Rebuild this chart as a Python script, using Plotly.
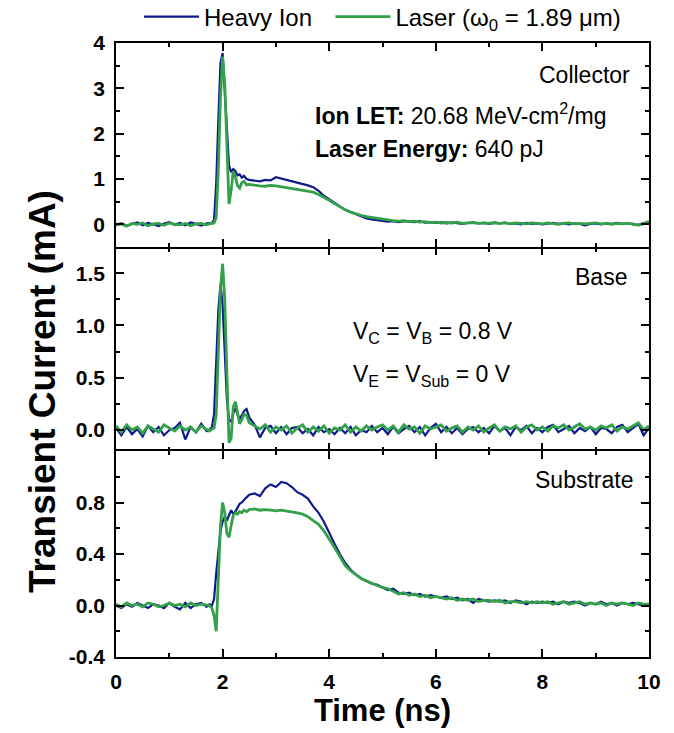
import plotly.graph_objects as go
from plotly.subplots import make_subplots

# ---------------- data ----------------
TIME_NS = [
    0.0, 0.1, 0.2, 0.3, 0.4, 0.5, 0.6, 0.7, 0.8, 0.9, 1.0, 1.1, 1.2, 1.3, 1.4, 1.5, 1.6, 1.7,
    1.75, 1.80, 1.84, 1.88, 1.92, 1.96, 2.00, 2.04, 2.08, 2.12, 2.16, 2.20, 2.24, 2.28, 2.32, 2.36, 2.40, 2.45, 2.50,
    2.6, 2.7, 2.8, 2.9, 3.0, 3.1, 3.2, 3.3, 3.4, 3.5, 3.6, 3.7, 3.8, 3.9, 4.0, 4.1, 4.2, 4.3, 4.4, 4.5, 4.6, 4.7, 4.8, 4.9,
    5.0, 5.1, 5.2, 5.3, 5.4, 5.5, 5.6, 5.7, 5.8, 5.9,
    6.0, 6.1, 6.2, 6.3, 6.4, 6.5, 6.6, 6.7, 6.8, 6.9,
    7.0, 7.1, 7.2, 7.3, 7.4, 7.5, 7.6, 7.7, 7.8, 7.9,
    8.0, 8.1, 8.2, 8.3, 8.4, 8.5, 8.6, 8.7, 8.8, 8.9,
    9.0, 9.1, 9.2, 9.3, 9.4, 9.5, 9.6, 9.7, 9.8, 9.9, 10.0,
]

collector_ion = [
    0.00, 0.02, -0.03, 0.01, 0.04, -0.02, 0.03, 0.00, -0.04, 0.02, 0.05, -0.01, 0.03, -0.02, 0.04, 0.01, -0.03, 0.02,
    0.02, 0.03, 0.10, 0.90, 2.30, 3.55, 3.78, 2.90, 1.90, 1.30, 1.15, 1.22, 1.18, 1.08, 1.10, 1.03, 1.07, 1.00, 0.98,
    0.96, 0.95, 0.98, 0.97, 1.04, 1.01, 0.98, 0.96, 0.93, 0.90, 0.86, 0.82, 0.74, 0.63, 0.55, 0.47, 0.39, 0.32, 0.27, 0.22, 0.18, 0.13, 0.11, 0.09,
    0.08, 0.06, 0.07, 0.05, 0.07, 0.06, 0.05, 0.07, 0.04, 0.05,
    0.03, 0.05, 0.02, 0.04, 0.03, 0.01, 0.03, 0.04, 0.02, 0.03,
    0.01, 0.03, 0.02, 0.04, 0.01, 0.02, 0.00, 0.03, 0.01, 0.02,
    0.00, 0.02, 0.03, 0.01, 0.02, 0.00, 0.02, 0.01, -0.02, 0.01,
    0.02, 0.00, 0.02, 0.01, 0.03, 0.01, 0.02, 0.00, -0.01, 0.02, 0.05,
]
collector_laser = [
    -0.02, 0.01, -0.04, 0.02, 0.00, 0.03, -0.03, 0.01, 0.02, -0.02, 0.03, 0.00, -0.01, 0.02, -0.03, 0.01, 0.02, -0.01,
    0.01, 0.02, 0.03, 0.15, 1.20, 2.80, 3.70, 3.10, 1.50, 0.45, 0.75, 1.17, 1.05, 0.85, 0.80, 0.92, 0.95, 0.87, 0.88,
    0.86, 0.85, 0.84, 0.86, 0.85, 0.83, 0.82, 0.80, 0.78, 0.76, 0.74, 0.71, 0.66, 0.60, 0.53, 0.46, 0.39, 0.32, 0.27, 0.23, 0.20, 0.17, 0.15, 0.13,
    0.11, 0.09, 0.08, 0.07, 0.08, 0.06, 0.07, 0.05, 0.06, 0.04,
    0.05, 0.03, 0.04, 0.03, 0.05, 0.02, 0.03, 0.04, 0.02, 0.03,
    0.02, 0.04, 0.02, 0.03, 0.01, 0.03, 0.02, 0.01, 0.03, 0.02,
    0.01, 0.03, 0.02, 0.00, 0.02, 0.03, 0.01, 0.02, 0.01, 0.02,
    0.03, 0.01, 0.02, 0.00, 0.02, 0.01, 0.02, 0.01, -0.02, 0.02, 0.06,
]

base_ion = [
    0.02, -0.05, 0.03, -0.04, 0.01, -0.06, 0.04, -0.02, 0.03, -0.05, 0.00, 0.02, 0.07, -0.09, 0.03, -0.02, 0.06, -0.01,
    0.00, 0.03, 0.15, 0.60, 1.15, 1.39, 1.20, 0.75, 0.30, 0.10, 0.08, 0.16, 0.21, 0.15, 0.11, 0.14, 0.18, 0.20, 0.12,
    0.05, -0.07, 0.02, 0.04, -0.03, 0.03, -0.04, 0.02, 0.03, -0.03, 0.01, -0.05, 0.03, -0.02, 0.01, -0.04, 0.02, -0.03, 0.03, -0.05, 0.00, -0.02, 0.04, -0.02,
    0.02, -0.04, 0.03, -0.03, 0.01, 0.04, -0.02, 0.03, -0.05, 0.02,
    0.06, -0.02, 0.03, -0.03, 0.02, -0.04, 0.01, 0.03, -0.02, 0.02,
    -0.03, 0.04, -0.01, 0.02, -0.05, 0.03, 0.00, 0.04, -0.03, 0.02,
    -0.02, 0.03, 0.05, -0.02, 0.01, 0.04, -0.03, 0.02, -0.01, 0.03,
    -0.04, 0.02, 0.01, -0.03, 0.03, 0.05, -0.02, 0.02, 0.06, -0.05, 0.02,
]
base_laser = [
    0.04, -0.02, 0.05, 0.00, 0.03, -0.03, 0.04, 0.01, -0.02, 0.05, 0.02, -0.01, 0.04, 0.00, 0.03, -0.02, 0.04, 0.01,
    -0.01, 0.01, 0.02, 0.15, 0.75, 1.35, 1.59, 1.25, 0.55, -0.12, -0.08, 0.22, 0.27, 0.15, 0.06, 0.10, 0.15, 0.14, 0.07,
    0.04, 0.01, 0.05, -0.02, 0.03, 0.00, 0.04, -0.03, 0.02, 0.05, -0.02, 0.03, -0.01, 0.04, -0.03, 0.02, 0.00, 0.05, -0.02, 0.03, -0.01, 0.04, 0.00, 0.03,
    0.05, 0.00, 0.04, -0.02, 0.05, 0.01, 0.03, -0.03, 0.04, 0.01,
    0.03, 0.05, -0.01, 0.02, 0.04, -0.02, 0.03, 0.00, 0.04, -0.02,
    0.02, 0.05, -0.01, 0.03, 0.01, 0.04, -0.02, 0.03, 0.05, 0.00,
    0.03, -0.01, 0.04, 0.02, 0.05, 0.00, 0.03, 0.06, 0.01, 0.03,
    0.00, 0.04, 0.02, 0.05, -0.01, 0.03, 0.01, 0.04, 0.07, 0.00, 0.04,
]

substrate_ion = [
    0.00, -0.02, 0.01, -0.01, 0.02, 0.00, -0.02, 0.01, 0.00, -0.02, 0.02, -0.01, -0.03, 0.02, -0.02, 0.01, 0.02, -0.01,
    0.01, 0.00, 0.05, 0.25, 0.45, 0.58, 0.65, 0.69, 0.66, 0.70, 0.74, 0.71, 0.73, 0.76, 0.79, 0.80, 0.82, 0.84, 0.86,
    0.87, 0.85, 0.91, 0.94, 0.92, 0.96, 0.95, 0.92, 0.88, 0.86, 0.83, 0.77, 0.72, 0.65, 0.56, 0.48, 0.40, 0.33, 0.28, 0.24, 0.21, 0.19, 0.17, 0.16,
    0.14, 0.12, 0.13, 0.10, 0.09, 0.10, 0.08, 0.09, 0.07, 0.08,
    0.07, 0.06, 0.07, 0.05, 0.06, 0.04, 0.05, 0.02, 0.05, 0.04,
    0.03, 0.04, 0.03, 0.04, 0.02, 0.04, 0.03, 0.01, 0.03, 0.02,
    0.03, 0.02, 0.03, 0.01, 0.03, 0.02, 0.03, 0.02, 0.00, 0.02,
    0.01, 0.03, 0.01, 0.02, 0.00, 0.02, 0.01, 0.02, 0.01, 0.00, 0.01,
]
substrate_laser = [
    0.01, -0.01, 0.02, 0.00, 0.01, -0.01, 0.02, 0.01, -0.01, 0.00, 0.02, 0.00, 0.01, -0.01, 0.02, 0.00, 0.01, 0.00,
    0.00, -0.02, -0.08, -0.20, 0.15, 0.62, 0.80, 0.72, 0.56, 0.53, 0.62, 0.70, 0.72, 0.71, 0.73, 0.72, 0.74, 0.73, 0.745,
    0.75, 0.74, 0.745, 0.74, 0.735, 0.74, 0.735, 0.73, 0.72, 0.71, 0.69, 0.66, 0.63, 0.58, 0.52, 0.45, 0.38, 0.31, 0.27, 0.24, 0.21, 0.19, 0.17, 0.155,
    0.14, 0.13, 0.11, 0.09, 0.10, 0.08, 0.09, 0.07, 0.08, 0.06,
    0.07, 0.06, 0.05, 0.06, 0.04, 0.05, 0.04, 0.05, 0.03, 0.04,
    0.04, 0.03, 0.04, 0.02, 0.03, 0.03, 0.02, 0.03, 0.02, 0.03,
    0.02, 0.03, 0.01, 0.02, 0.03, 0.01, 0.02, 0.03, 0.01, 0.02,
    0.01, 0.02, 0.00, 0.02, 0.01, 0.02, 0.01, 0.00, 0.02, 0.01, 0.01,
]

for s in (collector_ion, collector_laser, base_ion, base_laser, substrate_ion, substrate_laser):
    assert len(s) == len(TIME_NS), len(s)

SERIES_NAMES = ["Heavy Ion\u00a0\u00a0", "Laser (\u03c9<sub>0</sub> = 1.89 \u03bcm)"]
PANELS = [
    ("Collector", collector_ion, collector_laser),
    ("Base", base_ion, base_laser),
    ("Substrate", substrate_ion, substrate_laser),
]
X_TICKS = [0, 2, 4, 6, 8, 10]
Y_TICKS = [[0, 1, 2, 3, 4], [0.0, 0.5, 1.0, 1.5], [-0.4, 0.0, 0.4, 0.8]]
Y_TICKTEXT = [["0", "1", "2", "3", "4"], ["0.0", "0.5", "1.0", "1.5"], ["-0.4", "0.0", "0.4", "0.8"]]
Y_RANGES = [[-0.5, 4.0], [-0.2, 1.75], [-0.4, 1.2]]
Y_MINOR = [0.5, 0.25, 0.2]

# ---------------- styling ----------------
BLUE = "#0e1a8c"
GREEN = "#33a04a"
FONT = "Liberation Sans, Arial, sans-serif"

W, H = 674, 733
L, R, T, B = 116, 25, 43, 76
PW, PH = W - L - R, H - T - B


def px_x(px):
    return (px - L) / PW


def px_y(py):
    return (H - B - py) / PH


fig = make_subplots(rows=3, cols=1, shared_xaxes=True, vertical_spacing=0)

for i, (label, ion, laser) in enumerate(PANELS):
    fig.add_trace(go.Scatter(x=TIME_NS, y=ion, mode="lines", name=SERIES_NAMES[0],
                             line=dict(color=BLUE, width=2.2), showlegend=(i == 0),
                             legendrank=1), row=i + 1, col=1)
    fig.add_trace(go.Scatter(x=TIME_NS, y=laser, mode="lines", name=SERIES_NAMES[1],
                             line=dict(color=GREEN, width=2.8), showlegend=(i == 0),
                             legendrank=2), row=i + 1, col=1)

tick_common = dict(
    linecolor="black", linewidth=1.6,
    ticks="inside", ticklen=8, tickwidth=1.6, tickcolor="black",
    showgrid=False, zeroline=False,
    tickfont=dict(family=FONT, size=21, color="black", weight="bold"),
    ticklabelstandoff=5,
)

p1 = px_y(247)
p2 = px_y(451)
domains = [[p1, 1.0], [p2, p1], [0.0, p2]]

for i in range(3):
    fig.update_yaxes(
        range=Y_RANGES[i], tickvals=Y_TICKS[i], ticktext=Y_TICKTEXT[i],
        domain=domains[i], showline=True, mirror="ticks",
        minor=dict(ticks="inside", ticklen=4.5, tickwidth=1.6, tickcolor="black",
                   dtick=Y_MINOR[i], tick0=0, showgrid=False),
        **tick_common, row=i + 1, col=1)
    # middle panel draws no horizontal frame lines of its own (shared with neighbours)
    fig.update_xaxes(
        range=[0, 10], tickvals=X_TICKS, showticklabels=(i == 2),
        showline=(i != 1), mirror="ticks",
        minor=dict(ticks="inside", ticklen=4.5, tickwidth=1.6, tickcolor="black",
                   dtick=1, tick0=0, showgrid=False),
        **tick_common, row=i + 1, col=1)

fig.update_xaxes(title=dict(text="<b>Time (ns)</b>", font=dict(family=FONT, size=31, color="black"),
                            standoff=6), row=3, col=1)

ann_font = dict(family=FONT, size=23, color="black")
annotations = [
    dict(text="Collector", x=px_x(632), y=px_y(75), xanchor="right"),
    dict(text="<b>Ion LET:</b> 20.68 MeV-cm<sup>2</sup>/mg", x=px_x(313), y=px_y(114), xanchor="left"),
    dict(text="<b>Laser Energy:</b> 640 pJ", x=px_x(313), y=px_y(149), xanchor="left"),
    dict(text="Base", x=px_x(629), y=px_y(277), xanchor="right"),
    dict(text="V<sub>C</sub> = V<sub>B</sub> = 0.8 V", x=px_x(351), y=px_y(332), xanchor="left"),
    dict(text="V<sub>E</sub> = V<sub>Sub</sub> = 0 V", x=px_x(351), y=px_y(375), xanchor="left"),
    dict(text="Substrate", x=px_x(635), y=px_y(480), xanchor="right"),
]
for a in annotations:
    fig.add_annotation(xref="paper", yref="paper", yanchor="middle", showarrow=False,
                       font=ann_font, **a)

fig.add_annotation(xref="paper", yref="paper", x=px_x(42), y=px_y(392),
                   text="<b>Transient Current (mA)</b>", textangle=-90, showarrow=False,
                   xanchor="center", yanchor="middle",
                   font=dict(family=FONT, size=37, color="black"))

fig.update_layout(
    width=W, height=H,
    margin=dict(l=L, r=R, t=T, b=B, autoexpand=False),
    paper_bgcolor="white", plot_bgcolor="white",
    legend=dict(orientation="h", x=0.5, xanchor="center",
                yref="container", y=1 - 17 / H, yanchor="middle",
                font=dict(family=FONT, size=24, color="black"), itemwidth=55,
                bgcolor="rgba(0,0,0,0)", traceorder="normal"),
)

fig.write_html("out.html")
